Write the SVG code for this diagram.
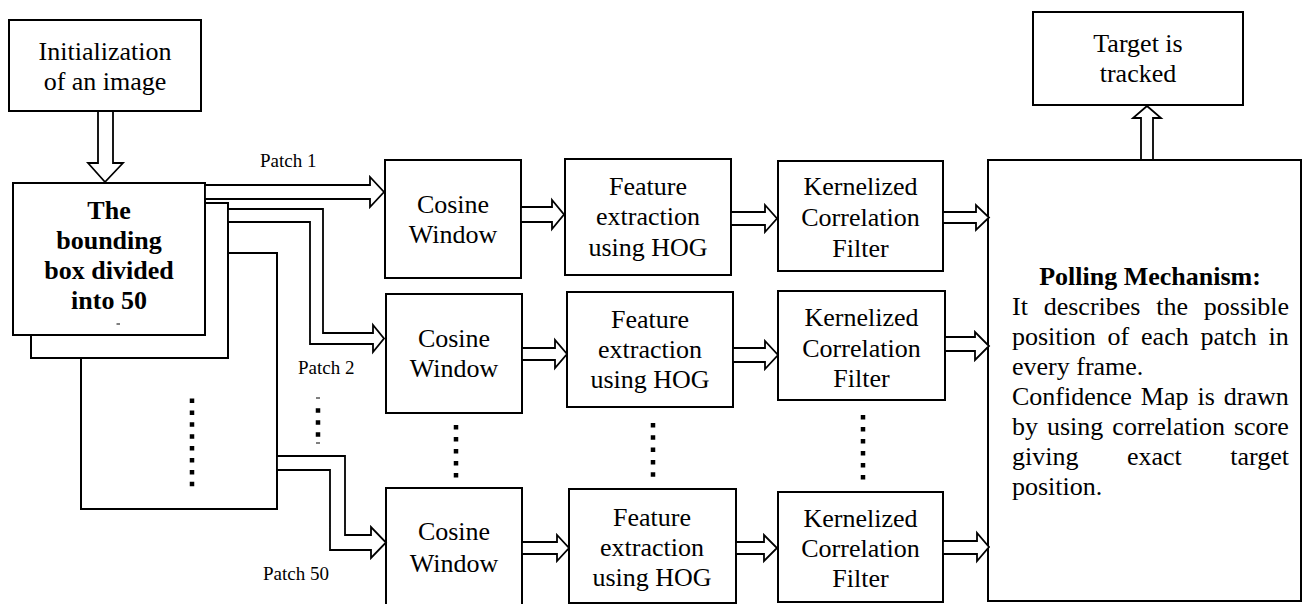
<svg xmlns="http://www.w3.org/2000/svg" width="1311" height="604" viewBox="0 0 1311 604">
  <style>
    .box { fill: #fff; stroke: #000; stroke-width: 2; }
    .arr { fill: #fff; stroke: #000; stroke-width: 1.8; stroke-linejoin: miter; }
    .t { font-family: "Liberation Serif", "Times New Roman", serif; font-size: 26px; fill: #000; }
    .c { text-anchor: middle; }
    .b { font-weight: bold; }
    .lbl { font-family: "Liberation Serif", "Times New Roman", serif; font-size: 19px; fill: #000; }
    .dots { stroke: #000; stroke-width: 4.5; fill: none; }
  </style>
  <rect width="1311" height="604" fill="#fff"/>

  <!-- input image -->
  <g id="init">
    <rect class="box" x="9" y="20" width="192" height="91"/>
    <text class="t c" x="105" y="60">Initialization</text>
    <text class="t c" x="105" y="90">of an image</text>
  </g>

  <!-- stacked patch boxes -->
  <g id="patches">
    <rect class="box" x="81" y="253" width="196" height="256"/>
    <rect class="box" x="31" y="203" width="197" height="155"/>
    <rect class="box" x="13" y="183" width="192" height="152"/>
    <text class="t c b" x="109" y="219">The</text>
    <text class="t c b" x="109" y="249">bounding</text>
    <text class="t c b" x="109" y="279">box divided</text>
    <text class="t c b" x="109" y="309">into 50</text>
    <line x1="116.5" y1="324" x2="120" y2="324" stroke="#000" stroke-width="1"/>
    <line class="dots" x1="192" y1="398.5" x2="192" y2="486.3" stroke-dasharray="4.5 7.4"/>
  </g>

  <!-- row 1 -->
  <g id="cos1">
    <rect class="box" x="385" y="160" width="136" height="118"/>
    <text class="t c" x="453" y="213">Cosine</text>
    <text class="t c" x="453" y="243">Window</text>
  </g>
  <g id="hog1">
    <rect class="box" x="565" y="159" width="166" height="116"/>
    <text class="t c" x="648" y="195">Feature</text>
    <text class="t c" x="648" y="225">extraction</text>
    <text class="t c" x="648" y="256">using HOG</text>
  </g>
  <g id="kcf1">
    <rect class="box" x="778" y="161" width="165" height="110"/>
    <text class="t c" x="860.5" y="195">Kernelized</text>
    <text class="t c" x="860.5" y="226">Correlation</text>
    <text class="t c" x="860.5" y="257">Filter</text>
  </g>

  <!-- row 2 -->
  <g id="cos2">
    <rect class="box" x="386" y="294" width="136" height="119"/>
    <text class="t c" x="454" y="347">Cosine</text>
    <text class="t c" x="454" y="377">Window</text>
  </g>
  <g id="hog2">
    <rect class="box" x="567" y="292" width="166" height="115"/>
    <text class="t c" x="650" y="328">Feature</text>
    <text class="t c" x="650" y="358">extraction</text>
    <text class="t c" x="650" y="388">using HOG</text>
  </g>
  <g id="kcf2">
    <rect class="box" x="778" y="291" width="167" height="109"/>
    <text class="t c" x="861.5" y="326">Kernelized</text>
    <text class="t c" x="861.5" y="357">Correlation</text>
    <text class="t c" x="861.5" y="387">Filter</text>
  </g>

  <!-- continuation marks between rows -->
  <g id="ellipses">
    <line class="dots" x1="456" y1="425" x2="456" y2="477.5" stroke-dasharray="4.5 7.5"/>
    <line class="dots" x1="653" y1="423" x2="653" y2="476.7" stroke-dasharray="4.5 7.8"/>
    <line class="dots" x1="863" y1="415" x2="863" y2="479.5" stroke-dasharray="4.5 7.5"/>
    <line class="dots" x1="318" y1="408.3" x2="318" y2="437" stroke-dasharray="4.5 7.5"/>
    <line x1="316" y1="398" x2="320" y2="398" stroke="#000" stroke-width="1"/>
    <line x1="316" y1="443" x2="320" y2="443" stroke="#000" stroke-width="1"/>
  </g>

  <!-- row 3 -->
  <g id="cos3">
    <rect class="box" x="386" y="488" width="136" height="120"/>
    <text class="t c" x="454" y="540">Cosine</text>
    <text class="t c" x="454" y="572">Window</text>
  </g>
  <g id="hog3">
    <rect class="box" x="569" y="489" width="167" height="114"/>
    <text class="t c" x="652" y="526">Feature</text>
    <text class="t c" x="652" y="556">extraction</text>
    <text class="t c" x="652" y="586">using HOG</text>
  </g>
  <g id="kcf3">
    <rect class="box" x="778" y="492" width="165" height="110"/>
    <text class="t c" x="860.5" y="527">Kernelized</text>
    <text class="t c" x="860.5" y="557">Correlation</text>
    <text class="t c" x="860.5" y="587">Filter</text>
  </g>

  <!-- pooling of patch responses -->
  <g id="polling">
    <rect class="box" x="988" y="160" width="313" height="441"/>
    <text class="t c b" x="1150" y="285">Polling Mechanism:</text>
    <text class="t" x="1012" y="315" word-spacing="9.3">It describes the possible</text>
    <text class="t" x="1012" y="345" word-spacing="5.3">position of each patch in</text>
    <text class="t" x="1012" y="375">every frame.</text>
    <text class="t" x="1012" y="405" word-spacing="2.5">Confidence Map is drawn</text>
    <text class="t" x="1012" y="435" word-spacing="2.5">by using correlation score</text>
    <text class="t" x="1012" y="465">giving</text>
    <text class="t" x="1127" y="465">exact</text>
    <text class="t" x="1289" y="465" text-anchor="end">target</text>
    <text class="t" x="1012" y="495">position.</text>
  </g>

  <g id="target">
    <rect class="box" x="1033" y="12" width="210" height="93"/>
    <text class="t c" x="1138" y="52">Target is</text>
    <text class="t c" x="1138" y="82">tracked</text>
  </g>

  <!-- block-arrow connectors -->
  <g id="connectors">
    <path class="arr" d="M98,111 V163 H88 L105,182 L123,163 H113 V111 Z"/>

    <path class="arr" d="M205,185 H370 V177 L384,192 L370,207 V199 H205 Z"/>
    <path class="arr" d="M228,209 H323 V333 H373 V325 L384,338.5 L373,352 V344 H310 V222 H228 Z"/>
    <path class="arr" d="M277,456 H345 V535 H371 V527 L386,542.5 L371,558 V550 H330 V470 H277 Z"/>

    <path class="arr" d="M521,207 H552 V200 L564,214.5 L552,229 V222 H521 Z"/>
    <path class="arr" d="M522,348 H555 V340 L567,354 L555,368 V360 H522 Z"/>
    <path class="arr" d="M522,542 H557 V535 L569,548 L557,561 V554 H522 Z"/>

    <path class="arr" d="M731,212 H765 V205 L777,218.5 L765,232 V225 H731 Z"/>
    <path class="arr" d="M733,348 H765 V341 L778,355 L765,369 V362 H733 Z"/>
    <path class="arr" d="M736,542 H764 V535 L777,548 L764,561 V554 H736 Z"/>

    <path class="arr" d="M943,212 H976 V205 L989,217.5 L976,230 V223 H943 Z"/>
    <path class="arr" d="M945,337 H975 V332 L989,346 L975,360 V351 H945 Z"/>
    <path class="arr" d="M943,541 H977 V533 L989,547 L977,561 V554 H943 Z"/>

    <path class="arr" d="M1141,160 V118 H1133 L1147,106 L1161,118 H1153 V160 Z"/>

    <text class="lbl" x="260" y="167">Patch 1</text>
    <text class="lbl" x="298" y="374">Patch 2</text>
    <text class="lbl" x="263" y="580">Patch 50</text>
  </g>
</svg>
